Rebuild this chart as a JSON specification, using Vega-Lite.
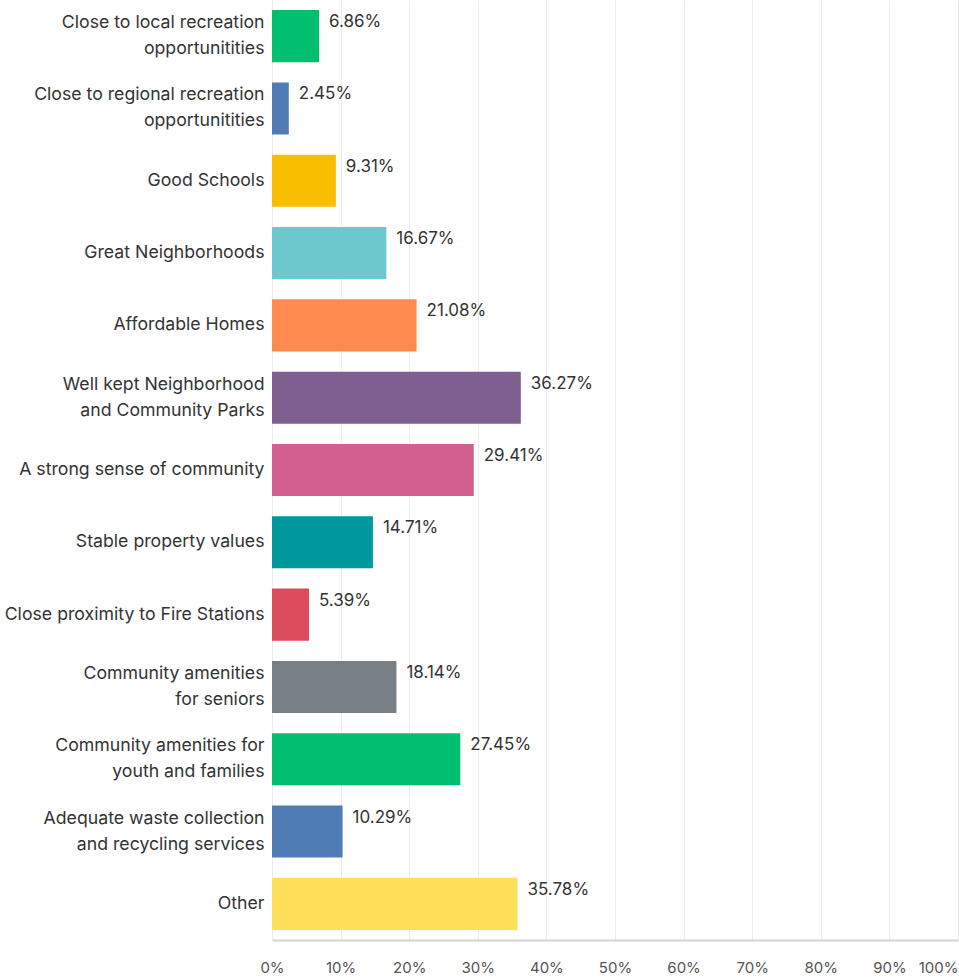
{
  "$schema": "https://vega.github.io/schema/vega-lite/v6.json",
  "width": 686,
  "height": 940,
  "autosize": "none",
  "padding": {"left": 272, "top": 0, "right": 1, "bottom": 37},
  "background": "white",
  "config": {"view": {"stroke": null}, "font": "Inter"},
  "data": {
    "values": [
      {"answer": "Close to local recreation|opportunitities", "pct": 6.86, "color": "#00BF6F"},
      {"answer": "Close to regional recreation|opportunitities", "pct": 2.45, "color": "#507CB6"},
      {"answer": "Good Schools", "pct": 9.31, "color": "#F9BE00"},
      {"answer": "Great Neighborhoods", "pct": 16.67, "color": "#6BC8CD"},
      {"answer": "Affordable Homes", "pct": 21.08, "color": "#FF8B4F"},
      {"answer": "Well kept Neighborhood|and Community Parks", "pct": 36.27, "color": "#7F5E90"},
      {"answer": "A strong sense of community", "pct": 29.41, "color": "#D25F90"},
      {"answer": "Stable property values", "pct": 14.71, "color": "#00979D"},
      {"answer": "Close proximity to Fire Stations", "pct": 5.39, "color": "#DB4D5C"},
      {"answer": "Community amenities|for seniors", "pct": 18.14, "color": "#768086"},
      {"answer": "Community amenities for|youth and families", "pct": 27.45, "color": "#00BF6F"},
      {"answer": "Adequate waste collection|and recycling services", "pct": 10.29, "color": "#507CB6"},
      {"answer": "Other", "pct": 35.78, "color": "#FFDE5A"}
    ]
  },
  "transform": [
    {"calculate": "format(datum.pct, '.2f') + '%'", "as": "label"}
  ],
  "encoding": {
    "y": {
      "field": "answer",
      "type": "nominal",
      "sort": null,
      "scale": {"paddingInner": 0.28, "paddingOuter": 0.14},
      "axis": {
        "title": null,
        "labelExpr": "split(datum.label, '|')",
        "labelFontSize": 17.7,
        "labelColor": "#333333",
        "labelLineHeight": 26,
        "labelPadding": 8,
        "labelLimit": 300,
        "labelOffset": {"condition": {"test": "indexof(datum.value, '|') >= 0", "value": -13}, "value": 0},
        "ticks": false,
        "domain": false
      }
    },
    "x": {
      "field": "pct",
      "type": "quantitative",
      "scale": {"domain": [0, 100]},
      "axis": {
        "title": null,
        "values": [0, 10, 20, 30, 40, 50, 60, 70, 80, 90, 100],
        "labelExpr": "datum.value + '%'",
        "labelFontSize": 15,
        "labelColor": "#555555",
        "labelPadding": 20,
        "labelAlign": {"condition": {"test": "datum.value == 100", "value": "right"}, "value": "center"},
        "ticks": false,
        "domainColor": "#d4d4d4",
        "domainWidth": 2,
        "gridColor": "#ececec",
        "gridWidth": 1,
        "labelFlush": false
      }
    }
  },
  "layer": [
    {
      "mark": {"type": "bar"},
      "encoding": {
        "color": {"field": "color", "type": "nominal", "scale": null}
      }
    },
    {
      "mark": {"type": "text", "align": "left", "baseline": "middle", "dx": 10, "dy": -14, "fontSize": 17, "color": "#333333"},
      "encoding": {
        "text": {"field": "label", "type": "nominal"}
      }
    }
  ]
}
